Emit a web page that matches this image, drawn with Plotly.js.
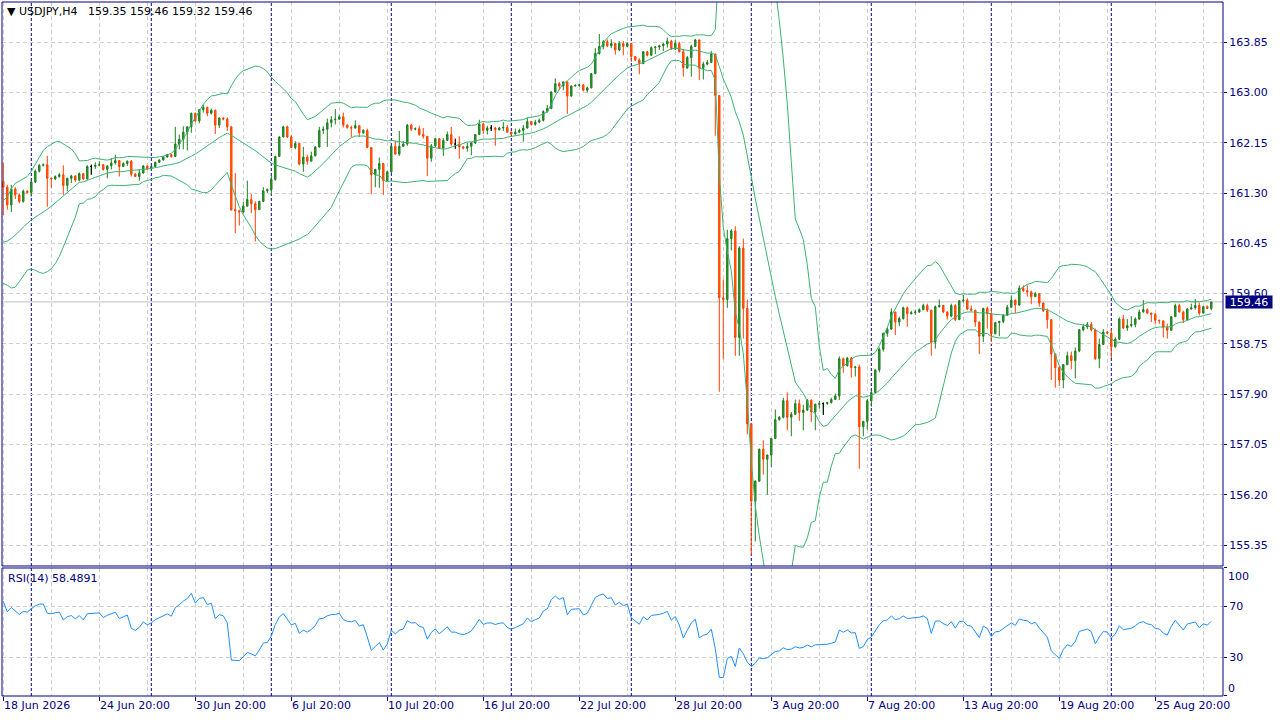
<!DOCTYPE html>
<html><head><meta charset="utf-8">
<script src="https://cdn.plot.ly/plotly-3.0.1.min.js"></script>
<style>html,body{margin:0;padding:0;background:#fff}#chart{width:1280px;height:720px}</style>
</head><body><div id="chart"></div>
<script>
const symbol = 'USDJPY,H4';
const firstOpen = 161.50;
const closes = [
161.40,161.10,161.37,161.27,161.16,161.33,161.31,161.49,161.67,161.77,
161.78,161.55,161.54,161.58,161.61,161.43,161.55,161.59,161.52,161.63,
161.54,161.75,161.75,161.77,161.78,161.70,161.76,161.81,161.85,161.75,
161.80,161.84,161.62,161.58,161.64,161.76,161.71,161.75,161.82,161.86,
161.91,161.95,161.92,162.13,162.21,162.33,162.42,162.65,162.52,162.71,
162.75,162.65,162.70,162.45,162.57,162.55,162.42,161.02,161.00,160.98,
161.08,161.19,161.12,161.02,161.16,161.34,161.36,161.53,161.92,162.25,
162.42,162.25,162.07,162.14,161.79,161.91,161.84,161.93,162.08,162.36,
162.38,162.49,162.54,162.55,162.59,162.45,162.41,162.40,162.44,162.32,
162.36,162.07,161.61,161.70,161.80,161.51,161.66,162.09,161.96,162.09,
162.13,162.45,162.38,162.39,162.29,162.26,161.89,162.10,162.22,162.06,
162.19,162.29,162.13,162.13,162.08,162.06,162.09,162.15,162.29,162.47,
162.36,162.40,162.40,162.37,162.40,162.41,162.33,162.30,162.33,162.36,
162.40,162.51,162.46,162.50,162.53,162.68,162.73,163.01,163.15,163.11,
163.18,162.94,163.11,163.12,163.13,163.04,163.08,163.32,163.66,163.78,
163.86,163.79,163.83,163.72,163.83,163.78,163.83,163.61,163.55,163.49,
163.69,163.63,163.76,163.77,163.79,163.82,163.87,163.74,163.83,163.69,
163.42,163.59,163.78,163.89,163.41,163.48,163.51,163.65,162.95,159.53,
159.50,160.53,160.66,158.86,160.37,159.35,157.40,156.09,156.43,156.97,
156.80,156.87,157.15,157.47,157.51,157.79,157.51,157.56,157.74,157.59,
157.63,157.80,157.60,157.73,157.74,157.74,157.76,157.81,157.87,158.50,
158.38,158.51,158.35,158.36,157.35,157.44,157.79,157.93,158.31,158.66,
158.93,159.00,159.29,159.12,159.18,159.36,159.26,159.28,159.29,159.33,
159.40,159.32,158.78,159.38,159.40,159.29,159.22,159.40,159.16,159.48,
159.49,159.34,159.32,159.12,158.88,159.35,159.26,158.92,159.11,159.13,
159.24,159.37,159.49,159.41,159.69,159.65,159.63,159.55,159.60,159.44,
159.31,159.16,158.58,158.35,158.14,158.40,158.55,158.47,158.63,158.99,
159.04,159.08,158.99,158.50,158.74,158.95,158.93,158.70,158.83,159.17,
159.02,159.06,159.08,159.17,159.29,159.33,159.27,159.25,159.15,159.14,
159.03,158.98,159.21,159.40,159.29,159.16,159.34,159.36,159.40,159.27,
159.38,159.35,159.46];
const highs = [
161.82,161.44,161.44,161.40,161.29,161.36,161.35,161.51,161.70,161.79,
161.80,161.93,161.56,161.60,161.64,161.77,161.56,161.61,161.60,161.65,
161.64,161.77,161.78,161.82,161.84,161.79,161.77,161.89,161.95,161.86,
161.82,161.85,161.86,161.64,161.70,161.77,161.77,161.76,161.83,161.87,
161.93,161.96,161.96,162.42,162.29,162.43,162.43,162.66,162.66,162.72,
162.80,162.76,162.73,162.71,162.58,162.58,162.58,162.43,161.64,161.02,
161.15,161.51,161.29,161.16,161.17,161.40,161.38,161.61,161.93,162.26,
162.44,162.44,162.28,162.18,162.14,162.08,161.95,162.00,162.09,162.42,
162.43,162.56,162.60,162.72,162.63,162.66,162.46,162.44,162.53,162.45,
162.38,162.39,162.07,161.71,161.90,161.81,161.67,162.10,162.18,162.35,
162.18,162.47,162.47,162.41,162.44,162.40,162.26,162.13,162.23,162.22,
162.23,162.34,162.42,162.22,162.26,162.10,162.15,162.16,162.30,162.54,
162.49,162.44,162.45,162.42,162.42,162.50,162.45,162.34,162.39,162.39,
162.45,162.58,162.52,162.54,162.56,162.70,162.79,163.02,163.24,163.18,
163.19,163.18,163.12,163.14,163.15,163.14,163.10,163.33,163.75,163.99,
163.89,163.90,163.90,163.84,163.87,163.87,163.85,163.83,163.62,163.58,
163.70,163.70,163.78,163.78,163.81,163.84,163.93,163.89,163.89,163.86,
163.74,163.62,163.81,163.91,163.89,163.52,163.55,163.70,163.66,162.95,
159.84,160.68,160.69,160.74,160.40,160.53,159.50,157.40,156.44,156.98,
157.12,156.88,157.16,157.64,157.53,157.84,157.93,157.60,157.81,157.81,
157.72,157.81,157.81,157.74,157.79,157.76,157.77,157.84,157.91,158.54,
158.52,158.53,158.53,158.38,158.40,157.45,157.82,157.96,158.32,158.69,
158.94,159.03,159.35,159.29,159.21,159.38,159.38,159.31,159.33,159.35,
159.43,159.43,159.33,159.40,159.50,159.41,159.30,159.43,159.42,159.49,
159.58,159.52,159.40,159.33,159.13,159.36,159.38,159.34,159.12,159.14,
159.25,159.41,159.57,159.50,159.74,159.74,159.74,159.65,159.63,159.61,
159.46,159.35,159.17,158.58,158.38,158.41,158.62,158.62,158.69,159.00,
159.09,159.12,159.12,159.01,158.84,159.00,158.97,159.00,158.86,159.20,
159.24,159.17,159.22,159.20,159.33,159.49,159.35,159.28,159.27,159.16,
159.14,159.09,159.22,159.43,159.43,159.31,159.36,159.43,159.51,159.45,
159.39,159.40,159.46];
const lows = [
160.93,161.02,160.98,161.20,161.13,161.14,161.29,161.24,161.47,161.65,
161.75,161.07,161.38,161.52,161.56,161.27,161.33,161.47,161.49,161.50,
161.52,161.53,161.61,161.71,161.76,161.68,161.55,161.70,161.78,161.58,
161.74,161.76,161.58,161.57,161.51,161.63,161.69,161.70,161.74,161.81,
161.85,161.90,161.90,161.91,162.04,162.04,162.02,162.32,162.50,162.48,
162.66,162.60,162.63,162.30,162.40,162.53,162.35,161.00,160.62,160.75,
160.96,161.07,160.96,160.48,161.02,161.15,161.30,161.27,161.51,161.91,
162.24,162.23,162.06,162.04,161.77,161.66,161.78,161.84,161.92,162.07,
162.30,162.08,162.41,162.46,162.54,162.41,162.39,162.25,162.39,162.25,
162.30,162.06,161.28,161.40,161.39,161.27,161.50,161.64,161.95,161.93,
162.08,162.10,162.35,162.36,162.27,162.22,161.59,161.83,162.08,162.05,
161.93,162.19,162.10,162.05,161.88,162.04,162.00,161.94,162.13,162.28,
162.30,162.29,162.35,162.10,162.36,162.35,162.32,162.28,162.29,162.32,
162.17,162.39,162.44,162.44,162.48,162.51,162.66,162.72,163.00,163.04,
163.04,162.64,162.93,163.10,163.10,163.02,163.00,163.07,163.31,163.64,
163.73,163.77,163.75,163.64,163.70,163.63,163.77,163.52,163.53,163.31,
163.48,163.61,163.62,163.65,163.72,163.70,163.76,163.72,163.72,163.68,
163.27,163.40,163.27,163.77,163.21,163.22,163.46,163.50,162.27,157.94,
158.49,159.36,160.33,158.55,158.55,158.84,157.22,155.18,155.41,156.42,
156.54,156.20,156.67,157.14,157.45,157.49,157.29,157.19,157.55,157.45,
157.29,157.62,157.43,157.29,157.66,157.55,157.72,157.74,157.80,157.80,
158.26,158.37,158.18,158.20,156.64,157.19,157.30,157.69,157.92,158.27,
158.62,158.87,158.99,158.90,159.05,159.16,159.04,159.25,159.24,159.27,
159.32,159.29,158.55,158.67,159.36,159.27,159.16,159.20,159.14,159.16,
159.45,159.32,159.30,159.04,158.58,158.78,159.01,158.78,158.96,158.88,
159.10,159.22,159.36,159.27,159.39,159.63,159.55,159.42,159.54,159.38,
159.29,159.01,158.14,158.01,158.04,158.00,158.39,158.32,158.17,158.61,
158.96,159.00,158.96,158.48,158.34,158.74,158.92,158.51,158.69,158.82,
159.00,158.97,159.03,159.03,159.16,159.28,159.26,159.12,159.09,159.09,
158.86,158.84,158.97,159.21,159.28,159.10,159.15,159.33,159.33,159.23,
159.27,159.34,159.32];
// closes before the first visible bar, estimated from where the bands start
const preCloses = [160.70,160.50,160.15,159.90,159.85,160.05,160.40,160.70,160.95,160.80,
160.65,160.55,160.40,160.30,160.25,160.35,160.45,160.50,160.55];
const priceLevels = [155.35,156.20,157.05,157.90,158.75,159.60,160.45,161.30,162.15,163.00,163.85];
const rsiLevels = [0,30,70,100];
const timeLabelIdx = [0,24,48,72,96,120,144,168,192,216,240,264,288];
const timeLabels = ['18 Jun 2026','24 Jun 20:00','30 Jun 20:00','6 Jul 20:00','10 Jul 20:00','16 Jul 20:00',
'22 Jul 20:00','28 Jul 20:00','3 Aug 20:00','7 Aug 20:00','13 Aug 20:00','19 Aug 20:00','25 Aug 20:00'];
const minorGridIdx = [12,36,60,84,108,132,156,180,204,228,252,276,300];
const weekSepIdx = [7,37,67,97,127,157,187,217,247,277];
const rsiLabel = 'RSI(14) 58.4891';
const rsiStart = {gain:0.1364, loss:0.0479};
const bbPeriod = 20, bbDev = 2, rsiPeriod = 14;

const n = closes.length;
const idx = closes.map((_, i) => i);
const opens = closes.map((c, i) => i === 0 ? firstOpen : closes[i - 1]);
const hi = highs.map((h, i) => Math.max(h, opens[i], closes[i]));
const lo = lows.map((l, i) => Math.min(l, opens[i], closes[i]));

// Bollinger Bands (20, 2)
const all = preCloses.concat(closes);
const off = preCloses.length;
const bbMid = [], bbUp = [], bbLo = [];
for (let i = 0; i < n; i++) {
  const end = i + off;
  const start = Math.max(0, end - bbPeriod + 1);
  const w = all.slice(start, end + 1);
  const m = w.reduce((a, b) => a + b, 0) / w.length;
  const sd = Math.sqrt(w.reduce((a, b) => a + (b - m) * (b - m), 0) / w.length);
  bbMid.push(m); bbUp.push(m + bbDev * sd); bbLo.push(m - bbDev * sd);
}
// RSI(14), Wilder smoothing
const rsi = [];
let g = rsiStart.gain, l = rsiStart.loss;
for (let i = 0; i < n; i++) {
  if (i > 0) {
    const d = closes[i] - closes[i - 1];
    g = (g * (rsiPeriod - 1) + Math.max(d, 0)) / rsiPeriod;
    l = (l * (rsiPeriod - 1) + Math.max(-d, 0)) / rsiPeriod;
  }
  rsi.push(l === 0 ? 100 : 100 - 100 / (1 + g / l));
}
const dojiIdx = idx.filter(i => Math.abs(closes[i] - opens[i]) < 1e-9);

const navy = '#000080';
const gridCol = '#d0d0d0';
const gdash = '4px,3px';
const baseFont = {family: 'DejaVu Sans, sans-serif', size: 11, color: navy};
const xr = [-0.325, 304.925];
const mainDom = [0.18732, 1], rsiDom = [0, 0.18444];

const traces = [
  {type: 'candlestick', x: idx, open: opens, high: hi, low: lo, close: closes, xaxis: 'x', yaxis: 'y',
   increasing: {line: {color: '#1f7d1f', width: 1}, fillcolor: '#2ca62c'},
   decreasing: {line: {color: '#ff4000', width: 1}, fillcolor: '#ff6a00'},
   whiskerwidth: 0, hoverinfo: 'none'},
  {type: 'candlestick', x: dojiIdx, open: dojiIdx.map(i => opens[i]), high: dojiIdx.map(i => hi[i]),
   low: dojiIdx.map(i => lo[i]), close: dojiIdx.map(i => closes[i]), xaxis: 'x', yaxis: 'y',
   increasing: {line: {color: '#000000', width: 1}, fillcolor: '#000000'},
   decreasing: {line: {color: '#000000', width: 1}, fillcolor: '#000000'},
   whiskerwidth: 0, hoverinfo: 'none'},
  {type: 'scatter', mode: 'lines', x: idx, y: bbUp, xaxis: 'x', yaxis: 'y', line: {color: '#3cb371', width: 1}, hoverinfo: 'none'},
  {type: 'scatter', mode: 'lines', x: idx, y: bbMid, xaxis: 'x', yaxis: 'y', line: {color: '#3cb371', width: 1}, hoverinfo: 'none'},
  {type: 'scatter', mode: 'lines', x: idx, y: bbLo, xaxis: 'x', yaxis: 'y', line: {color: '#3cb371', width: 1}, hoverinfo: 'none'},
  {type: 'scatter', mode: 'lines', x: idx, y: rsi, xaxis: 'x2', yaxis: 'y2', line: {color: '#1e90ff', width: 1}, hoverinfo: 'none'}
];

const xCommon = {
  range: xr, tickmode: 'array', tickvals: timeLabelIdx, showticklabels: false,
  showgrid: true, gridcolor: gridCol, griddash: gdash, gridwidth: 1, zeroline: false, fixedrange: true,
  minor: {tickmode: 'array', tickvals: minorGridIdx, showgrid: true, gridcolor: gridCol, griddash: gdash, ticks: ''}
};
const shapes = [];
weekSepIdx.forEach(i => shapes.push({type: 'line', xref: 'x', yref: 'paper', x0: i, x1: i, y0: 0, y1: 1,
  line: {color: navy, width: 1, dash: '3px,2px'}, layer: 'between'}));
shapes.push({type: 'line', xref: 'paper', yref: 'y', x0: 0, x1: 1, y0: closes[n - 1], y1: closes[n - 1],
  line: {color: '#c0c0c0', width: 1}, layer: 'between'});
shapes.push({type: 'rect', xref: 'paper', yref: 'paper', x0: 0, x1: 1, y0: mainDom[0], y1: mainDom[1],
  line: {color: navy, width: 1}, fillcolor: 'rgba(0,0,0,0)'});
shapes.push({type: 'rect', xref: 'paper', yref: 'paper', x0: 0, x1: 1, y0: rsiDom[0], y1: rsiDom[1],
  line: {color: navy, width: 1}, fillcolor: 'rgba(0,0,0,0)'});

const annotations = [];
timeLabelIdx.forEach((i, k) => annotations.push({xref: 'x2', yref: 'paper', x: i, y: 0, xanchor: 'left', yanchor: 'top',
  yshift: -1, xshift: -1, text: timeLabels[k], showarrow: false, font: baseFont}));
const last = n - 1;
const hdr = '\u25BC\u00a0' + symbol + '\u00a0\u00a0\u00a0' + [opens[last], hi[last], lo[last], closes[last]].map(v => v.toFixed(2)).join(' ');
annotations.push({xref: 'paper', yref: 'paper', x: 0, y: 1, xanchor: 'left', yanchor: 'top', xshift: 3, yshift: -1,
  text: hdr, showarrow: false, font: {family: 'DejaVu Sans, sans-serif', size: 11, color: '#000000'}});
annotations.push({xref: 'paper', yref: 'paper', x: 0, y: rsiDom[1], xanchor: 'left', yanchor: 'top', xshift: 4, yshift: -2,
  text: rsiLabel, showarrow: false, font: baseFont});
annotations.push({xref: 'paper', yref: 'y', x: 1, y: closes[last], xanchor: 'left', yanchor: 'middle', xshift: 2,
  text: closes[last].toFixed(2), showarrow: false, bgcolor: navy, width: 46, height: 12, borderpad: 0,
  font: {family: 'DejaVu Sans, sans-serif', size: 11, color: '#ffffff'}});
annotations.push({xref: 'paper', yref: 'y2', x: 1, y: 100, xanchor: 'left', yanchor: 'middle', xshift: 3, yshift: -9,
  text: '100', showarrow: false, font: baseFont});
annotations.push({xref: 'paper', yref: 'y2', x: 1, y: 0, xanchor: 'left', yanchor: 'middle', xshift: 3, yshift: 7,
  text: '0', showarrow: false, font: baseFont});

const layout = {
  width: 1280, height: 720, margin: {l: 2, r: 57, t: 2, b: 24}, paper_bgcolor: '#ffffff', plot_bgcolor: '#ffffff',
  showlegend: false, font: baseFont, boxgap: 0.5, hovermode: false,
  xaxis: Object.assign({}, xCommon, {anchor: 'y', domain: [0, 1], ticks: '', rangeslider: {visible: false}}),
  xaxis2: Object.assign({}, xCommon, {anchor: 'y2', domain: [0, 1], ticks: 'outside', ticklen: 4, tickcolor: navy, tickwidth: 1, rangeslider: {visible: false}}),
  yaxis: {domain: mainDom, anchor: 'x', side: 'right', range: [154.995, 164.531], tickmode: 'array', tickvals: priceLevels,
    ticktext: priceLevels.map(v => v.toFixed(2)), ticks: 'outside', ticklen: 3, tickcolor: navy, showgrid: true,
    gridcolor: gridCol, griddash: gdash, zeroline: false, fixedrange: true, tickfont: baseFont},
  yaxis2: {domain: rsiDom, anchor: 'x2', side: 'right', range: [0, 100], tickmode: 'array', tickvals: rsiLevels,
    ticktext: rsiLevels.map(v => (v === 0 || v === 100) ? '' : String(v)), ticks: 'outside', ticklen: 3, tickcolor: navy,
    showgrid: true, gridcolor: gridCol, griddash: gdash, zeroline: false, fixedrange: true, tickfont: baseFont},
  shapes: shapes, annotations: annotations
};
Plotly.newPlot('chart', traces, layout, {staticPlot: true, displayModeBar: false});
</script></body></html>
